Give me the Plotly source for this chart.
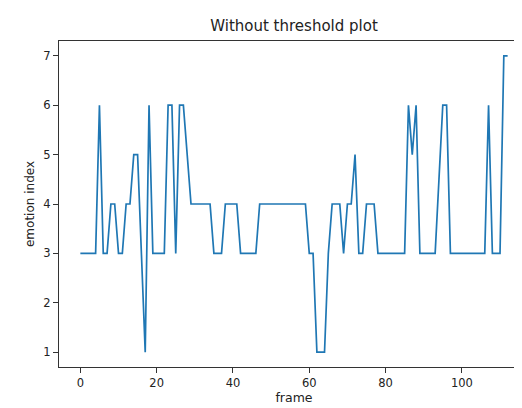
import plotly.graph_objects as go

frames = list(range(113))
emotion_index = [
    3, 3, 3, 3, 3, 6, 3, 3, 4, 4,          # 0-9
    3, 3, 4, 4, 5, 5, 3, 1, 6, 3,          # 10-19
    3, 3, 3, 6, 6, 3, 6, 6, 5, 4,          # 20-29
    4, 4, 4, 4, 4, 3, 3, 3, 4, 4,          # 30-39
    4, 4, 3, 3, 3, 3, 3, 4, 4, 4,          # 40-49
    4, 4, 4, 4, 4, 4, 4, 4, 4, 4,          # 50-59
    3, 3, 1, 1, 1, 3, 4, 4, 4, 3,          # 60-69
    4, 4, 5, 3, 3, 4, 4, 4, 3, 3,          # 70-79
    3, 3, 3, 3, 3, 3, 6, 5, 6, 3,          # 80-89
    3, 3, 3, 3, 4.5, 6, 6, 3, 3, 3,        # 90-99
    3, 3, 3, 3, 3, 3, 3, 6, 3, 3,          # 100-109
    3, 7, 7,                               # 110-112
]
x_ticks = [0, 20, 40, 60, 80, 100]
y_ticks = [1, 2, 3, 4, 5, 6, 7]

font = "DejaVu Sans"

fig = go.Figure()
fig.add_trace(go.Scatter(
    x=frames, y=emotion_index, mode="lines",
    line=dict(color="#1f77b4", width=1.7),
    showlegend=False,
))

axis_common = dict(
    showgrid=False, zeroline=False,
    showline=True, linecolor="#333333", linewidth=1, mirror=True,
    ticks="outside", ticklen=5, tickwidth=1, tickcolor="#333333",
    tickfont=dict(family=font, size=11.5, color="#222222"),
)

fig.update_layout(
    width=522, height=408,
    margin=dict(l=51, r=1, t=33, b=49),
    paper_bgcolor="white", plot_bgcolor="white",
    title=dict(text="Without threshold plot", x=0.5, xref="paper", xanchor="center",
               y=1 - 18 / 408, yref="container", yanchor="middle",
               font=dict(family=font, size=15, color="#222222")),
    xaxis=dict(range=[-5.6, 117.6], tickvals=x_ticks,
               title=dict(text="frame", standoff=4, font=dict(family=font, size=12.5, color="#222222")),
               **axis_common),
    yaxis=dict(range=[0.7, 7.3], tickvals=y_ticks,
               title=dict(text="emotion index", standoff=6, font=dict(family=font, size=12, color="#222222")),
               **axis_common),
)

fig.write_html("out.html")
